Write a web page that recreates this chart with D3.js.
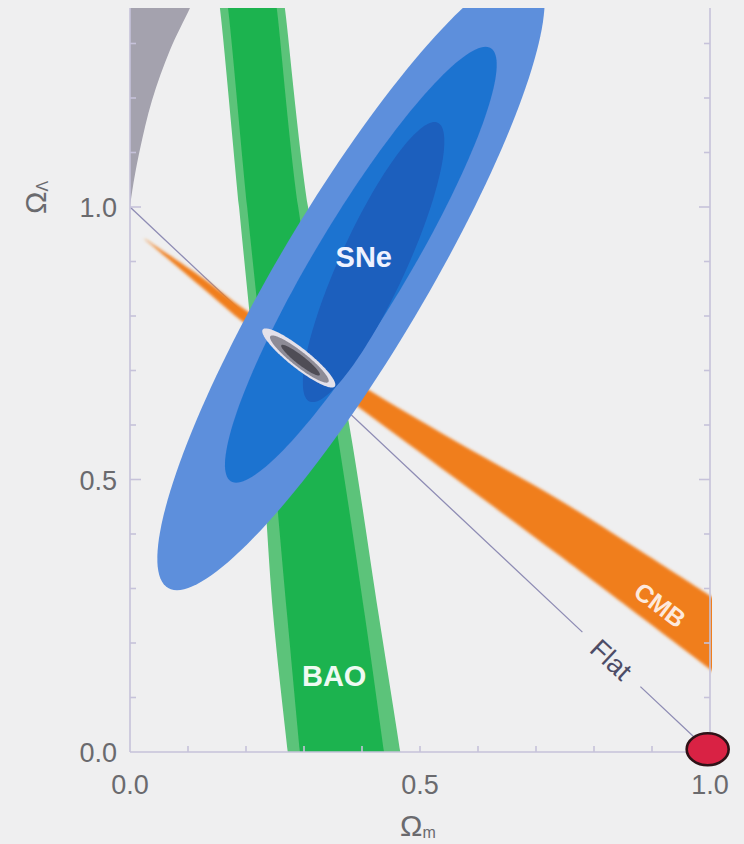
<!DOCTYPE html>
<html><head><meta charset="utf-8">
<script src="https://cdn.jsdelivr.net/npm/d3@7"></script>
<style>html,body{margin:0;padding:0;background:#efeff0;} svg{display:block}</style>
</head><body><svg id="c" width="744" height="844"></svg>
<script>
// ---------- data (Ωm, ΩΛ) ----------
const xTickValues = [0, 0.5, 1.0];
const xTickLabels = ["0.0", "0.5", "1.0"];
const yTickValues = [0, 0.5, 1.0];
const yTickLabels = ["0.0", "0.5", "1.0"];
const minorTicksX = [0.1,0.2,0.3,0.4,0.5,0.6,0.7,0.8,0.9];
const minorTicksY = [0.1,0.2,0.3,0.4,0.5,0.6,0.7,0.8,0.9,1.0,1.1,1.2,1.3];

// no-big-bang region boundary
const noBigBangOmegaL = [1.0, 1.037, 1.105, 1.196, 1.288, 1.365, 1.40];
const noBigBangOmegaM = [0.0, 0.005, 0.017, 0.038, 0.069, 0.1034, 0.118];

// BAO band
const baoOmegaL      = [1.40, 1.365, 1.0, 0.6, 0.25, 0.0, -0.03];
const baoOuterLeft   = [0.150, 0.155, 0.188, 0.224, 0.247, 0.272, 0.275];
const baoOuterRight  = [0.262, 0.267, 0.307, 0.378, 0.429, 0.466, 0.470];
const baoInnerLeft   = [0.164, 0.169, 0.202, 0.241, 0.271, 0.293, 0.296];
const baoInnerRight  = [0.248, 0.253, 0.290, 0.355, 0.405, 0.438, 0.442];

// CMB band
const cmbOmegaM = [0.022, 0.121, 0.202, 0.400, 0.557, 0.741, 1.010];
const cmbUpper  = [0.944, 0.873, 0.809, 0.672, 0.573, 0.462, 0.280];
const cmbLower  = [0.944, 0.855, 0.783, 0.628, 0.505, 0.360, 0.144];

// SNe confidence contours (outer -> inner): centre, conjugate half-axes
const sneCentreM = [0.381, 0.398, 0.420];
const sneCentreL = [0.866, 0.894, 0.899];
const sneAxis1M  = [-0.300, -0.215, -0.105];
const sneAxis1L  = [-0.569, -0.400, -0.257];
const sneAxis2M  = [0.1466, 0.0931, 0.0621];
const sneAxis2L  = [0.0, 0.0, 0.0];

// combined contours (outer -> inner)
const combCentreM = [0.291, 0.292, 0.294];
const combCentreL = [0.723, 0.721, 0.719];
const combAxis1M  = [0.0621, 0.0500, 0.0330];
const combAxis1L  = [-0.0523, -0.0420, -0.0275];
const combAxis2M  = [-0.0107, -0.0080, -0.0048];
const combAxis2L  = [-0.0144, -0.0106, -0.0064];

// flat universe line (with gap for label)
const flatSeg1M = [0, 0.78], flatSeg1L = [1, 0.22];
const flatSeg2M = [0.88, 1], flatSeg2L = [0.12, 0];

// Einstein–de Sitter point
const edsPoint = [0.996, 0.005];

// labels
const labelText = ["SNe", "BAO", "CMB", "Flat"];
const labelM    = [0.403, 0.352, 0.914, 0.830];
const labelL    = [0.910, 0.141, 0.270, 0.170];

// ---------- drawing ----------
const svg = d3.select("#c");
const x = d3.scaleLinear().domain([0, 1]).range([130, 710]);
const y = d3.scaleLinear().domain([0, 1]).range([752, 207]);
const yTop = 1.365;

const defs = svg.append("defs");
defs.append("clipPath").attr("id", "plotClip").append("rect")
  .attr("x", x(0)).attr("y", y(yTop)).attr("width", x(1) - x(0) + 2).attr("height", y(0) - y(yTop));
defs.append("filter").attr("id", "soft").attr("x", "-5%").attr("y", "-5%").attr("width", "110%").attr("height", "110%")
  .append("feGaussianBlur").attr("stdDeviation", 0.7);
defs.append("filter").attr("id", "softer").attr("x", "-5%").attr("y", "-5%").attr("width", "110%").attr("height", "110%")
  .append("feGaussianBlur").attr("stdDeviation", 1.6);

svg.append("rect").attr("width", 744).attr("height", 844).attr("fill", "#efeff0");

const plot = svg.append("g").attr("clip-path", "url(#plotClip)");
const back = plot.append("g").attr("filter", "url(#soft)");
const mid = plot.append("g").attr("filter", "url(#softer)");
const front = plot.append("g").attr("filter", "url(#soft)");

// no big bang
const nbb = noBigBangOmegaL.map((l, i) => [noBigBangOmegaM[i], l]);
back.append("path")
  .attr("d", d3.area().y(d => y(d[1])).x0(x(0) - 2).x1(d => x(d[0])).curve(d3.curveCatmullRom)(nbb))
  .attr("fill", "#a4a2ae");

// BAO
const bao = baoOmegaL.map((l, i) => ({l, ol: baoOuterLeft[i], or: baoOuterRight[i], il: baoInnerLeft[i], ir: baoInnerRight[i]}));
back.append("path")
  .attr("d", d3.area().y(d => y(d.l)).x0(d => x(d.ol)).x1(d => x(d.or)).curve(d3.curveCatmullRom)(bao))
  .attr("fill", "#5cc37a");
back.append("path")
  .attr("d", d3.area().y(d => y(d.l)).x0(d => x(d.il)).x1(d => x(d.ir)).curve(d3.curveCatmullRom)(bao))
  .attr("fill", "#1db34f");

// flat line
const lineGen = d3.line().x(d => x(d[0])).y(d => y(d[1]));
[[flatSeg1M, flatSeg1L], [flatSeg2M, flatSeg2L]].forEach(([m, l]) => {
  back.append("path").attr("d", lineGen(m.map((v, i) => [v, l[i]])))
    .attr("stroke", "#8e8cb4").attr("stroke-width", 1.3).attr("fill", "none");
});

// CMB
const cmb = cmbOmegaM.map((m, i) => ({m, u: cmbUpper[i], lo: cmbLower[i]}));
mid.append("path")
  .attr("d", d3.area().x(d => x(d.m)).y0(d => y(d.lo)).y1(d => y(d.u)).curve(d3.curveCatmullRom)(cmb))
  .attr("fill", "#f07e1c");

// SNe
const ellipse = (cm, cl, a1m, a1l, a2m, a2l) => d3.range(160).map(k => {
  const t = 2 * Math.PI * k / 160;
  return [cm + Math.cos(t) * a1m + Math.sin(t) * a2m, cl + Math.cos(t) * a1l + Math.sin(t) * a2l];
});
const closedLine = d3.line().x(d => x(d[0])).y(d => y(d[1])).curve(d3.curveLinearClosed);
const sneColours = ["#5d8fdc", "#1f73d0", "#1c5fbd"];
sneCentreM.forEach((cm, i) => {
  front.append("path")
    .attr("d", closedLine(ellipse(cm, sneCentreL[i], sneAxis1M[i], sneAxis1L[i], sneAxis2M[i], sneAxis2L[i])))
    .attr("fill", sneColours[i]);
});

// combined
const combColours = ["#e4e1ea", "#8d8b96", "#4f4d57"];
combCentreM.forEach((cm, i) => {
  front.append("path")
    .attr("d", closedLine(ellipse(cm, combCentreL[i], combAxis1M[i], combAxis1L[i], combAxis2M[i], combAxis2L[i])))
    .attr("fill", combColours[i]);
});

// ---------- axes ----------
const axisCol = "#c6c2da";
const ax = svg.append("g").attr("stroke", axisCol).attr("stroke-width", 1.6).attr("fill", "none");
ax.append("line").attr("x1", x(0)).attr("x2", x(0)).attr("y1", y(yTop)).attr("y2", y(0));
ax.append("line").attr("x1", x(1)).attr("x2", x(1)).attr("y1", y(yTop)).attr("y2", y(0));
ax.append("line").attr("x1", x(0)).attr("x2", x(1)).attr("y1", y(0)).attr("y2", y(0));
minorTicksX.forEach(v => {
  ax.append("line").attr("x1", x(v)).attr("x2", x(v)).attr("y1", y(0)).attr("y2", y(0) - 6);
});
minorTicksY.forEach(v => {
  const len = (v === 1.0 || v === 0.5) ? 11 : 6;
  ax.append("line").attr("x1", x(0)).attr("x2", x(0) + len).attr("y1", y(v)).attr("y2", y(v));
  ax.append("line").attr("x1", x(1)).attr("x2", x(1) - len).attr("y1", y(v)).attr("y2", y(v));
});

const font = "'Liberation Sans', Arial, Helvetica, sans-serif";
const tickCol = "#6a6a6e";
xTickValues.forEach((v, i) => {
  svg.append("text").attr("x", x(v)).attr("y", 794).attr("text-anchor", "middle")
    .attr("font-family", font).attr("font-size", 27).attr("fill", tickCol).text(xTickLabels[i]);
});
yTickValues.forEach((v, i) => {
  svg.append("text").attr("x", 117).attr("y", y(v) + 10).attr("text-anchor", "end")
    .attr("font-family", font).attr("font-size", 27).attr("fill", tickCol).text(yTickLabels[i]);
});

// axis titles
const xt = svg.append("text").attr("x", 400).attr("y", 836).attr("font-family", font).attr("fill", tickCol);
xt.append("tspan").attr("font-size", 30).text("Ω");
xt.append("tspan").attr("font-size", 16).attr("dy", 2).text("m");

const yt = svg.append("text").attr("transform", "translate(46,214) rotate(-90)").attr("font-family", font).attr("fill", tickCol);
yt.append("tspan").attr("font-size", 30).text("Ω");
yt.append("tspan").attr("font-size", 16).attr("dy", 2).text("Λ");

// Einstein–de Sitter dot
svg.append("ellipse").attr("cx", x(edsPoint[0])).attr("cy", y(edsPoint[1])).attr("rx", 21).attr("ry", 16)
  .attr("fill", "#d92244").attr("stroke", "#2e1217").attr("stroke-width", 2.6);

// labels
const labelSize = [29, 29, 25, 27];
const labelRot = [0, 0, 37, 43];
const labelFill = ["#eef2ff", "#effaf2", "#fde9dc", "#4d4c66"];
const labelWeight = ["bold", "bold", "bold", "normal"];
labelText.forEach((t, i) => {
  svg.append("text")
    .attr("transform", `translate(${x(labelM[i])},${y(labelL[i])}) rotate(${labelRot[i]})`)
    .attr("text-anchor", "middle").attr("dy", "0.36em")
    .attr("font-family", font).attr("font-size", labelSize[i]).attr("font-weight", labelWeight[i])
    .attr("fill", labelFill[i]).text(t);
});
</script></body></html>
